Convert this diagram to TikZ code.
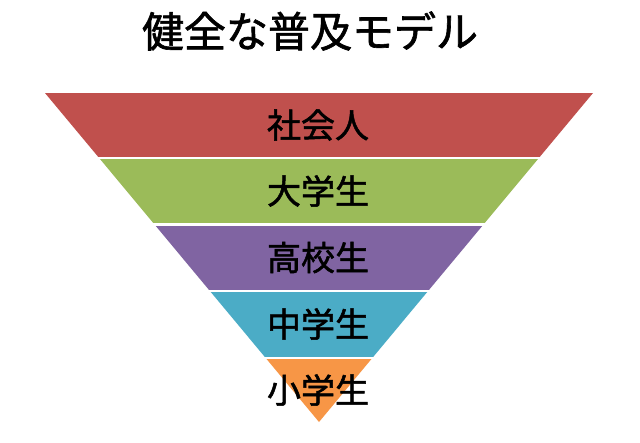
\documentclass[tikz,border=0pt]{standalone}
\usepackage{fontspec}
\newfontfamily\jpfont{Noto Sans CJK JP}[FakeBold=1.5]
\definecolor{bandred}{HTML}{C0504D}
\definecolor{bandgreen}{HTML}{9BBB59}
\definecolor{bandpurple}{HTML}{8064A2}
\definecolor{bandblue}{HTML}{4BACC6}
\definecolor{bandorange}{HTML}{F79646}

\begin{document}
\begin{tikzpicture}[
    x=1pt, y=-1pt,
    level/.style={font=\jpfont\fontsize{34}{34}\selectfont, text=black, inner sep=0pt},
    heading/.style={font=\jpfont\fontsize{42}{42}\selectfont, text=black, inner sep=0pt}
]
    \useasboundingbox (0,0) rectangle (640,442);

    % Title
    \node[heading] (title) at (310,31) {健全な普及モデル};

    % Bands of the inverted triangle
    \begin{scope}
        \clip (45,93) -- (593,93) -- (319,422) -- cycle;
        \foreach \c/\top/\bot in {bandred/93/156.7, bandgreen/159.3/222.9,
                                  bandpurple/225.5/289.7, bandblue/292.3/356.7,
                                  bandorange/359.3/423} {
            \fill[\c] (0,\top) rectangle (640,\bot);
        }
    \end{scope}

    % Levels
    \node[level] (adult)  at (318,125)   {社会人};
    \node[level] (univ)   at (318,191)   {大学生};
    \node[level] (high)   at (318,257.5) {高校生};
    \node[level] (middle) at (318,324)   {中学生};
    \node[level] (elem)   at (318,390)   {小学生};

\end{tikzpicture}
\end{document}
